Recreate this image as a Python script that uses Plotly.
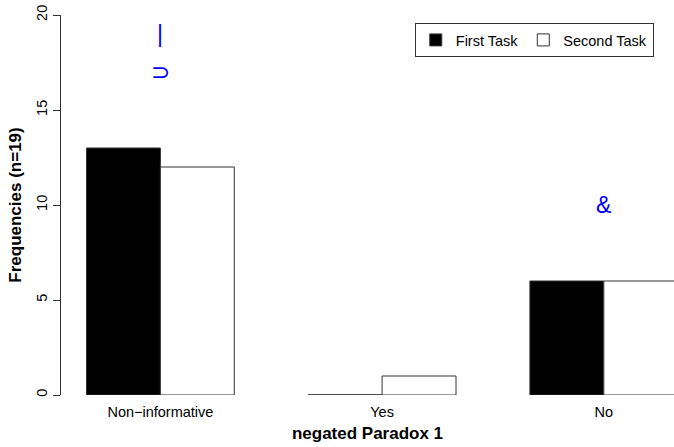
import plotly.graph_objects as go

categories = ["Non\u2212informative", "Yes", "No"]
first_task = [13, 0, 6]
second_task = [12, 1, 6]
series_names = ["First Task", "Second Task"]
y_ticks = [0, 5, 10, 15, 20]
marks_text = ["|", "\u2283", "&"]
marks_cat = [0, 0, 2]
marks_y = [19, 17, 10]

# R barplot(beside=TRUE) positions: groups of 2 bars, width 1, one space before each group
centers = [2 + 3 * i for i in range(len(categories))]
x_first = [c - 0.5 for c in centers]
x_second = [c + 0.5 for c in centers]

fig = go.Figure()
fig.add_trace(go.Bar(x=x_first, y=first_task, width=1, name=series_names[0],
                     marker=dict(color="black", line=dict(color="#333333", width=1))))
fig.add_trace(go.Bar(x=x_second, y=second_task, width=1, name=series_names[1],
                     marker=dict(color="white", line=dict(color="#333333", width=1))))

# zero-height bars are drawn by R as a flat outline
for xs, vals in ((x_first, first_task), (x_second, second_task)):
    for x, v in zip(xs, vals):
        if v == 0:
            fig.add_trace(go.Scatter(x=[x - 0.5, x + 0.5], y=[v, v], mode="lines",
                                     line=dict(color="#333333", width=1),
                                     showlegend=False, hoverinfo="skip"))

for t, ci, yv in zip(marks_text, marks_cat, marks_y):
    fig.add_annotation(x=centers[ci], y=yv, text=t, showarrow=False,
                       font=dict(color="#0000FF", size=23,
                                 family="Liberation Sans, DejaVu Sans, sans-serif"))

fig.update_layout(
    width=674, height=447,
    margin=dict(l=61, r=0, t=15, b=52, autoexpand=False),
    plot_bgcolor="white", paper_bgcolor="white",
    font=dict(family="Liberation Sans, Arial, sans-serif", size=14, color="black"),
    barmode="overlay",
    showlegend=True,
    legend=dict(orientation="h", x=0.967, xanchor="right", y=0.979, yanchor="top",
                bordercolor="#333333", borderwidth=1, bgcolor="white",
                font=dict(size=14.5), itemclick=False),
    xaxis=dict(range=[0.655, 8.95], tickvals=centers, ticktext=categories,
               showline=False, showgrid=False, zeroline=False, ticks="",
               ticklabelstandoff=6, automargin=False,
               title=dict(text="<b>negated Paradox 1</b>", standoff=8),
               tickfont=dict(size=14.5)),
    yaxis=dict(range=[0, 20], tickvals=y_ticks, ticktext=[str(v) for v in y_ticks],
               showline=True, linecolor="#333333", linewidth=1,
               ticks="outside", ticklen=7, tickcolor="#333333",
               tickangle=-90, showgrid=False, zeroline=False, automargin=False,
               ticklabeloverflow="allow",
               title=dict(text="<b>Frequencies (n=19)</b>", standoff=8),
               tickfont=dict(size=14.5)),
)

fig.write_html("out.html", config={"displayModeBar": False},
               post_script="document.body.style.margin='0';document.body.style.overflow='hidden';")
